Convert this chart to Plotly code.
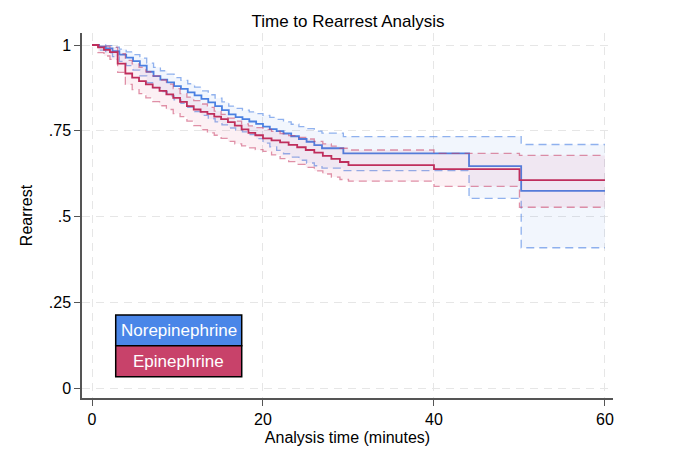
import plotly.graph_objects as go

# Norepinephrine (blue) Kaplan-Meier step values
norepi_t = [0, 0.8, 1.6, 2.4, 3.2, 4.0, 4.8, 5.6, 6.4, 7.2, 8.0, 8.8, 9.6, 10.4,
            11.2, 12.0, 12.8, 13.6, 14.4, 15.2, 16.0, 16.8, 17.6, 18.4, 19.2,
            20.0, 20.8, 21.6, 22.4, 23.3, 24.2, 25.1, 26.0, 26.9, 29.4, 44.1,
            50.2, 60]
norepi_s = [1.0, 0.995, 0.99, 0.982, 0.972, 0.963, 0.953, 0.940, 0.922, 0.909,
            0.899, 0.891, 0.880, 0.872, 0.862, 0.853, 0.843, 0.833, 0.822,
            0.810, 0.798, 0.790, 0.784, 0.777, 0.770, 0.762, 0.755, 0.749,
            0.742, 0.734, 0.726, 0.718, 0.708, 0.699, 0.684, 0.647, 0.575, 0.575]
norepi_hi = [1.0, 1.0, 0.998, 0.994, 0.988, 0.98, 0.972, 0.962, 0.947, 0.935,
             0.925, 0.915, 0.905, 0.897, 0.887, 0.877, 0.866, 0.855, 0.845,
             0.834, 0.822, 0.815, 0.81, 0.805, 0.80, 0.795, 0.789, 0.783,
             0.776, 0.769, 0.762, 0.756, 0.749, 0.743, 0.733, 0.733, 0.71, 0.71]
norepi_lo = [1.0, 0.985, 0.977, 0.966, 0.952, 0.94, 0.927, 0.91, 0.89, 0.876,
             0.864, 0.852, 0.84, 0.83, 0.818, 0.806, 0.795, 0.785, 0.776,
             0.767, 0.758, 0.752, 0.747, 0.739, 0.727, 0.714, 0.703, 0.693,
             0.683, 0.673, 0.664, 0.656, 0.648, 0.641, 0.634, 0.553, 0.409, 0.409]

# Epinephrine (red)
epi_t = [0, 0.7, 1.4, 2.1, 3.0, 3.9, 4.7, 5.5, 6.3, 7.1, 7.9, 8.7, 9.5, 10.3,
         11.1, 11.9, 12.7, 13.5, 14.3, 15.1, 15.9, 16.7, 17.5, 18.3, 19.1,
         20.0, 21.0, 22.0, 23.0, 24.0, 25.0, 26.0, 27.0, 28.0, 29.0, 30.0,
         40.0, 50.0, 60]
epi_s = [1.0, 0.993, 0.986, 0.979, 0.946, 0.917, 0.905, 0.895, 0.885, 0.876,
         0.866, 0.856, 0.846, 0.834, 0.822, 0.812, 0.805, 0.799, 0.791, 0.784,
         0.775, 0.765, 0.754, 0.744, 0.737, 0.728, 0.722, 0.716, 0.709, 0.702,
         0.694, 0.686, 0.677, 0.668, 0.659, 0.650, 0.638, 0.606, 0.606]
epi_hi = [1.0, 1.0, 0.997, 0.993, 0.975, 0.955, 0.945, 0.935, 0.922, 0.91,
          0.898, 0.886, 0.873, 0.858, 0.848, 0.838, 0.828, 0.818, 0.807, 0.798,
          0.787, 0.778, 0.770, 0.764, 0.759, 0.754, 0.748, 0.742, 0.736, 0.731,
          0.726, 0.719, 0.712, 0.705, 0.699, 0.694, 0.684, 0.678, 0.678]
epi_lo = [1.0, 0.978, 0.968, 0.958, 0.92, 0.885, 0.87, 0.858, 0.846, 0.835,
          0.823, 0.812, 0.8, 0.791, 0.778, 0.765, 0.753, 0.744, 0.737, 0.728,
          0.719, 0.712, 0.706, 0.700, 0.695, 0.690, 0.680, 0.669, 0.66, 0.652,
          0.643, 0.633, 0.624, 0.615, 0.608, 0.603, 0.588, 0.527, 0.527]

x_ticks = [0, 20, 40, 60]
y_ticks = [0, 0.25, 0.5, 0.75, 1]
y_ticklabels = ["0", ".25", ".5", ".75", "1"]

BLUE = "#4a80e2"
RED = "#bf2e5c"

fig = go.Figure()


def add_group(t, s, lo, hi, line_col, ci_col, fill_col):
    # confidence band: lower then upper filled to it
    fig.add_trace(go.Scatter(x=t, y=lo, mode="lines", line_shape="hv",
                             line=dict(color=ci_col, width=1.3, dash="8px,5px"),
                             showlegend=False, hoverinfo="skip"))
    fig.add_trace(go.Scatter(x=t, y=hi, mode="lines", line_shape="hv",
                             line=dict(color=ci_col, width=1.3, dash="8px,5px"),
                             fill="tonexty", fillcolor=fill_col,
                             showlegend=False, hoverinfo="skip"))
    fig.add_trace(go.Scatter(x=t, y=s, mode="lines", line_shape="hv",
                             line=dict(color=line_col, width=1.8),
                             showlegend=False))


add_group(norepi_t, norepi_s, norepi_lo, norepi_hi, BLUE,
          "rgba(74,128,226,0.6)", "rgba(74,128,226,0.07)")
add_group(epi_t, epi_s, epi_lo, epi_hi, RED,
          "rgba(200,60,100,0.55)", "rgba(220,60,110,0.08)")

# legend boxes drawn by hand (Stata style)
legend = [("Norepinephrine", "#4a86e8", 0.2274, 0.1433),
          ("Epinephrine", "#c8426a", 0.1433, 0.0584)]
for label, col, y1, y0 in legend:
    fig.add_shape(type="rect", xref="paper", yref="paper",
                  x0=0.0635, x1=0.3008, y0=y0, y1=y1,
                  fillcolor=col, line=dict(color="black", width=1.5))
    fig.add_annotation(xref="paper", yref="paper", x=(0.0635 + 0.3008) / 2,
                       y=(y0 + y1) / 2, xanchor="center", yanchor="middle",
                       text=label, showarrow=False,
                       font=dict(color="white", size=17))

axis_common = dict(showgrid=True, gridcolor="#e6e6e6", griddash="8px,6px",
                   gridwidth=1, zeroline=False, showline=True,
                   linecolor="#555555", linewidth=1.5, ticks="outside",
                   ticklen=6, tickcolor="#555555",
                   tickfont=dict(size=16, color="black"))

# page body adds 8px, so margins are shifted up/left to compensate
fig.update_layout(
    width=680, height=459,
    margin=dict(l=74, r=75, t=25, b=69, autoexpand=False),
    paper_bgcolor="white", plot_bgcolor="white",
    font=dict(family="Liberation Sans, Arial, sans-serif", color="black"),
    title=dict(text="Time to Rearrest Analysis", x=0.5, xanchor="center",
               y=0.972, yanchor="middle", font=dict(size=17)),
    xaxis=dict(range=[-1.17, 60.94], tickvals=x_ticks,
               title=dict(text="Analysis time (minutes)", font=dict(size=16),
                          standoff=5),
               **axis_common),
    yaxis=dict(range=[-0.029, 1.035], tickvals=y_ticks,
               ticktext=y_ticklabels,
               title=dict(text="Rearrest", font=dict(size=16), standoff=12),
               **axis_common),
)

fig.write_html("out.html")
